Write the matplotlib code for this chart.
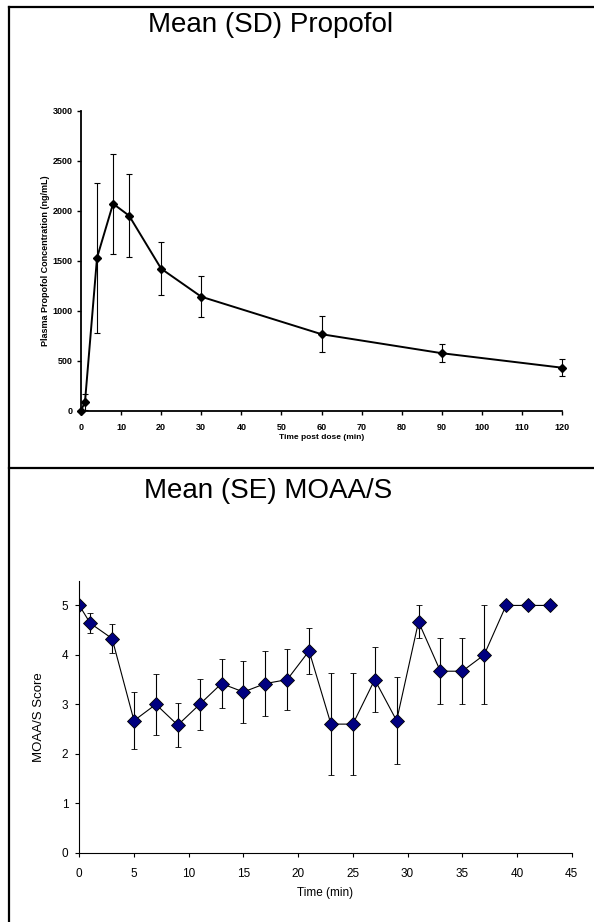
import numpy as np
from matplotlib import pyplot as plt
from matplotlib.lines import Line2D

plt.rcParams['font.family'] = ['Liberation Sans', 'DejaVu Sans']

# Propofol concentration, mean (SD)
pk_time = [0, 1, 4, 8, 12, 20, 30, 60, 90, 120]
pk_mean = [0, 90, 1530, 2070, 1950, 1420, 1140, 765, 575, 430]
pk_sd = [0, 80, 750, 500, 415, 265, 205, 178, 90, 82]
pk_xticks = list(range(0, 121, 10))
pk_yticks = list(range(0, 3001, 500))

# MOAA/S score, mean (SE)
moaas_time = [0, 1, 3, 5, 7, 9, 11, 13, 15, 17, 19, 21, 23, 25, 27, 29, 31, 33, 35, 37, 39, 41, 43]
moaas_mean = [5.0, 4.64, 4.33, 2.67, 3.0, 2.58, 3.0, 3.42, 3.25, 3.42, 3.5, 4.08,
              2.6, 2.6, 3.5, 2.67, 4.67, 3.67, 3.67, 4.0, 5.0, 5.0, 5.0]
moaas_se = [0, 0.2, 0.29, 0.57, 0.62, 0.45, 0.51, 0.5, 0.62, 0.65, 0.61, 0.47,
            1.03, 1.03, 0.65, 0.88, 0.33, 0.67, 0.67, 1.0, 0, 0, 0]
moaas_xticks = list(range(0, 46, 5))
moaas_yticks = list(range(0, 6))

W, H = 594, 922
fig = plt.figure(figsize=(W / 100, H / 100), dpi=100)

# Outer frame lines (table look)
for xs, ys in [([9, 9], [7, H]), ([9, W], [7, 7]), ([9, W], [468, 468])]:
    fig.add_artist(Line2D([x / W for x in xs], [1 - y / H for y in ys],
                          color='black', linewidth=1.6))

# Titles
fig.text(271 / W, 1 - 25 / H, 'Mean (SD) Propofol', ha='center', va='center', fontsize=20)
fig.text(268 / W, 1 - 491 / H, 'Mean (SE) MOAA/S', ha='center', va='center', fontsize=20)

# Top panel
ax1 = fig.add_axes([81 / W, 1 - 410.7 / H, (562 - 81) / W, (410.7 - 110.7) / H])
ax1.errorbar(pk_time, pk_mean, yerr=pk_sd, color='black', linewidth=1.4,
             marker='D', markersize=4.5, ecolor='black', elinewidth=0.8,
             capsize=2.5, capthick=0.8, clip_on=False)
ax1.set_xlim(0, 120)
ax1.set_ylim(0, 3000)
ax1.set_xticks(pk_xticks)
ax1.set_yticks(pk_yticks)
for s in ['top', 'right']:
    ax1.spines[s].set_visible(False)
for s in ['left', 'bottom']:
    ax1.spines[s].set_linewidth(1.3)
ax1.tick_params(direction='out', length=3, width=1, labelsize=6.5, pad=3)
ax1.tick_params(axis='x', pad=5.5)
for lbl in ax1.get_xticklabels() + ax1.get_yticklabels():
    lbl.set_fontweight('bold')
ax1.set_xlabel('Time post dose (min)', fontsize=6, fontweight='bold', labelpad=1.5)
ax1.set_ylabel('Plasma Propofol Concentration (ng/mL)', fontsize=6.5,
               fontweight='bold', labelpad=2)

# Bottom panel
ax2 = fig.add_axes([79.3 / W, 1 - 852.7 / H, (571.7 - 79.3) / W, (852.7 - 580.7) / H])
ax2.errorbar(moaas_time, moaas_mean, yerr=moaas_se, color='black', linewidth=0.8,
             marker='D', markersize=7.5, markerfacecolor='#000080',
             markeredgecolor='black', markeredgewidth=0.6,
             ecolor='black', elinewidth=0.8, capsize=2.5, capthick=0.8)
ax2.set_xlim(0, 45)
ax2.set_ylim(0, 5.5)
ax2.set_xticks(moaas_xticks)
ax2.set_yticks(moaas_yticks)
for s in ['top', 'right']:
    ax2.spines[s].set_visible(False)
for s in ['left', 'bottom']:
    ax2.spines[s].set_linewidth(0.8)
ax2.tick_params(direction='out', length=3, width=0.8, labelsize=8.5, pad=5)
ax2.tick_params(axis='x', pad=8)
ax2.set_xlabel('Time (min)', fontsize=8.5, labelpad=5)
ax2.set_ylabel('MOAA/S Score', fontsize=9.5, labelpad=12)

fig.savefig('out.png', dpi=100)
